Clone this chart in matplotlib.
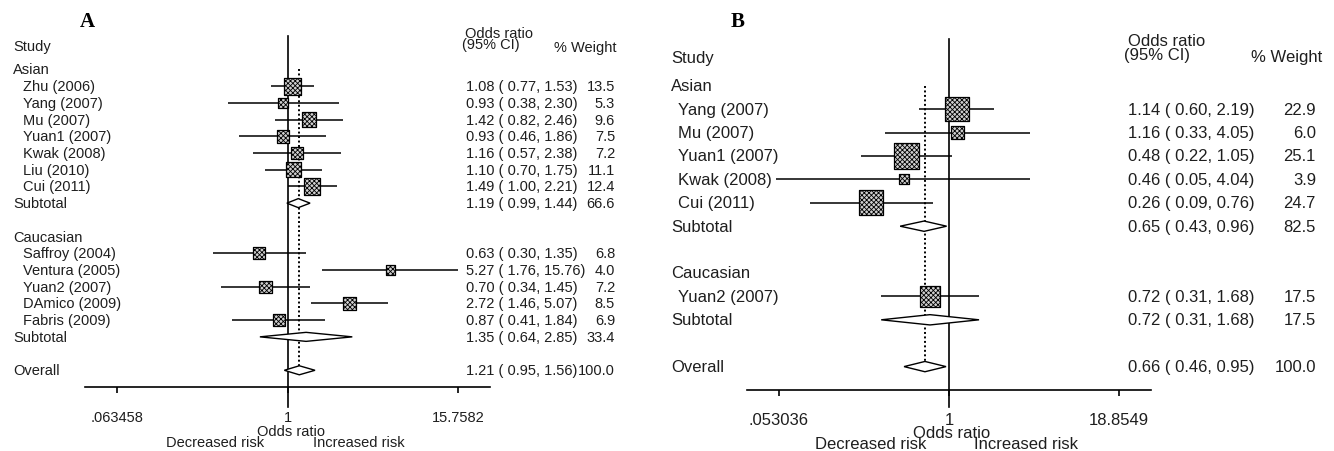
import numpy as np
import matplotlib
matplotlib.use('Agg')
import matplotlib.pyplot as plt
import matplotlib.transforms as mtrans
from matplotlib.patches import Polygon

plt.rcParams['font.family'] = ['Liberation Sans', 'DejaVu Sans']
plt.rcParams['hatch.linewidth'] = 0.6
plt.rcParams['hatch.color'] = '#444444'

# ---- panel A data ----
a_study = ['Zhu (2006)', 'Yang (2007)', 'Mu (2007)', 'Yuan1 (2007)', 'Kwak (2008)',
           'Liu (2010)', 'Cui (2011)', 'Saffroy (2004)', 'Ventura (2005)',
           'Yuan2 (2007)', 'DAmico (2009)', 'Fabris (2009)']
a_group = ['Asian'] * 7 + ['Caucasian'] * 5
a_or = [1.08, 0.93, 1.42, 0.93, 1.16, 1.10, 1.49, 0.63, 5.27, 0.70, 2.72, 0.87]
a_lo = [0.77, 0.38, 0.82, 0.46, 0.57, 0.70, 1.00, 0.30, 1.76, 0.34, 1.46, 0.41]
a_hi = [1.53, 2.30, 2.46, 1.86, 2.38, 1.75, 2.21, 1.35, 15.76, 1.45, 5.07, 1.84]
a_wt = [13.5, 5.3, 9.6, 7.5, 7.2, 11.1, 12.4, 6.8, 4.0, 7.2, 8.5, 6.9]
a_sub_or = [1.19, 1.35]
a_sub_lo = [0.99, 0.64]
a_sub_hi = [1.44, 2.85]
a_sub_wt = [66.6, 33.4]
a_all = [1.21, 0.95, 1.56, 100.0]
a_ticks = [0.063458, 1, 15.7582]
a_ticklabels = ['.063458', '1', '15.7582']

# ---- panel B data ----
b_study = ['Yang (2007)', 'Mu (2007)', 'Yuan1 (2007)', 'Kwak (2008)', 'Cui (2011)',
           'Yuan2 (2007)']
b_group = ['Asian'] * 5 + ['Caucasian']
b_or = [1.14, 1.16, 0.48, 0.46, 0.26, 0.72]
b_lo = [0.60, 0.33, 0.22, 0.05, 0.09, 0.31]
b_hi = [2.19, 4.05, 1.05, 4.04, 0.76, 1.68]
b_wt = [22.9, 6.0, 25.1, 3.9, 24.7, 17.5]
b_sub_or = [0.65, 0.72]
b_sub_lo = [0.43, 0.31]
b_sub_hi = [0.96, 1.68]
b_sub_wt = [82.5, 17.5]
b_all = [0.66, 0.46, 0.95, 100.0]
b_ticks = [0.053036, 1, 18.8549]
b_ticklabels = ['.053036', '1', '18.8549']

W, H = 1334, 452
TXT = '#1e1e1e'
fig = plt.figure(figsize=(W / 100, H / 100), dpi=100)


def ci_text(o, l, h):
    return f'{o:.2f} ( {l:.2f}, {h:.2f})'


def forest(rect, study, group, orr, lo, hi, wt, sub_or, sub_lo, sub_hi, sub_wt,
           overall, ticks, ticklabels, pad, cols, fs, box_k, dia_h, head_y, vdrop):
    ax = fig.add_axes([rect[0] / W, 1 - rect[3] / H, (rect[1] - rect[0]) / W,
                       (rect[3] - rect[2]) / H])
    tr = mtrans.blended_transform_factory(fig.transFigure, ax.transData)

    # row layout: group header, studies, subtotal, blank line
    groups = list(dict.fromkeys(group))
    rows, sub_rows, grp_rows = [], [], []
    r = 0
    for g in groups:
        grp_rows.append(r)
        n = group.count(g)
        rows += [r + 1 + i for i in range(n)]
        sub_rows.append(r + n + 1)
        r += n + 3
    all_row = r

    # CI lines and weighted boxes
    ax.hlines(rows, lo, hi, color='black', lw=1.1, zorder=2)
    side = box_k * np.sqrt(np.array(wt)) * 0.72
    ax.scatter(orr, rows, s=side ** 2, marker='s', facecolor='#d0d0d0',
               edgecolor='black', linewidths=0.9, hatch='xxxxxxx', zorder=3)

    # diamonds
    for o, l, h, rr in zip(sub_or + [overall[0]], sub_lo + [overall[1]],
                           sub_hi + [overall[2]], sub_rows + [all_row]):
        ax.add_patch(Polygon([[l, rr], [o, rr - dia_h], [h, rr], [o, rr + dia_h]],
                             closed=True, fc='white', ec='black', lw=1.0, zorder=3))

    # reference lines
    ax.axvline(1, ymin=-vdrop, ymax=1, color='black', lw=1.2, clip_on=False, zorder=1)
    ax.vlines(overall[0], 0, all_row, color='black', lw=1.4,
              linestyles=(0, (1, 1.3)), zorder=1)

    ax.set_xscale('log')
    ax.set_xlim(ticks[0] / 10 ** pad, ticks[-1] * 10 ** pad)
    ax.set_ylim(all_row + 1, -2)
    ax.set_yticks([])
    ax.minorticks_off()
    ax.set_xticks(ticks)
    ax.set_xticklabels(ticklabels)
    ax.tick_params(axis='x', length=4, width=1.2, pad=cols['tpad'],
                   labelsize=fs, labelcolor=TXT)
    for s in ['left', 'right', 'top']:
        ax.spines[s].set_visible(False)
    ax.spines['bottom'].set_linewidth(1.2)

    # left labels
    ax.text(cols['g'] / W, head_y['study'], 'Study', transform=tr, fontsize=fs,
            color=TXT, va='center')
    for g, gr, sr in zip(groups, grp_rows, sub_rows):
        ax.text(cols['g'] / W, gr, g, transform=tr, fontsize=fs, color=TXT, va='center')
        ax.text(cols['g'] / W, sr, 'Subtotal', transform=tr, fontsize=fs, color=TXT,
                va='center')
    ax.text(cols['g'] / W, all_row, 'Overall', transform=tr, fontsize=fs, color=TXT,
            va='center')
    for s, rr in zip(study, rows):
        ax.text(cols['s'] / W, rr, s, transform=tr, fontsize=fs, color=TXT, va='center')

    # right columns
    ax.text(cols['h1'] / W, head_y['or'], 'Odds ratio', transform=tr, fontsize=fs,
            color=TXT, va='center')
    ax.text(cols['h2'] / W, head_y['ci'], '(95% CI)', transform=tr, fontsize=fs,
            color=TXT, va='center')
    ax.text(cols['hw'] / W, head_y['wt'], '% Weight', transform=tr, fontsize=fs,
            color=TXT, va='center', ha='right')
    vals = list(zip(orr, lo, hi, wt, rows)) + \
        list(zip(sub_or, sub_lo, sub_hi, sub_wt, sub_rows)) + \
        [(overall[0], overall[1], overall[2], overall[3], all_row)]
    for o, l, h, w, rr in vals:
        ax.text(cols['ci'] / W, rr, ci_text(o, l, h), transform=tr, fontsize=fs,
                color=TXT, va='center')
        ax.text(cols['w'] / W, rr, f'{w:.1f}', transform=tr, fontsize=fs,
                color=TXT, va='center', ha='right')

    # axis captions
    ax.annotate('Odds ratio', xy=(1, 0), xycoords=('data', 'axes fraction'),
                xytext=(3, -cols['cap1']), textcoords='offset pixels', ha='center',
                va='center', fontsize=fs, color=TXT)
    ax.annotate('Decreased risk', xy=(1, 0), xycoords=('data', 'axes fraction'),
                xytext=(-23, -cols['cap2']), textcoords='offset pixels', ha='right',
                va='center', fontsize=fs, color=TXT)
    ax.annotate('Increased risk', xy=(1, 0), xycoords=('data', 'axes fraction'),
                xytext=(25, -cols['cap2']), textcoords='offset pixels', ha='left',
                va='center', fontsize=fs, color=TXT)
    return ax


forest((85, 490, 37, 388), a_study, a_group, a_or, a_lo, a_hi, a_wt,
       a_sub_or, a_sub_lo, a_sub_hi, a_sub_wt, a_all, a_ticks, a_ticklabels, 0.224,
       dict(g=13, s=23, ci=466, w=615, h1=465, h2=462, hw=616, tpad=12.5,
            cap1=44, cap2=55),
       10.5, 4.6, 0.27, {'study': -1.4, 'or': -2.2, 'ci': -1.5, 'wt': -1.35},
       20 / 351)

forest((747, 1151, 40, 391), b_study, b_group, b_or, b_lo, b_hi, b_wt,
       b_sub_or, b_sub_lo, b_sub_hi, b_sub_wt, b_all, b_ticks, b_ticklabels, 0.24,
       dict(g=671, s=678, ci=1128, w=1316, h1=1128, h2=1124, hw=1322, tpad=11.5,
            cap1=43, cap2=54),
       12, 5.0, 0.22, {'study': -1.23, 'or': -1.95, 'ci': -1.33, 'wt': -1.25},
       17 / 351)

fig.text(87 / W, 1 - 22 / H, 'A', fontsize=15, fontweight='bold',
         family='Liberation Serif', ha='center', va='center')
fig.text(738 / W, 1 - 22 / H, 'B', fontsize=15, fontweight='bold',
         family='Liberation Serif', ha='center', va='center')

fig.savefig('out.png', dpi=100)
